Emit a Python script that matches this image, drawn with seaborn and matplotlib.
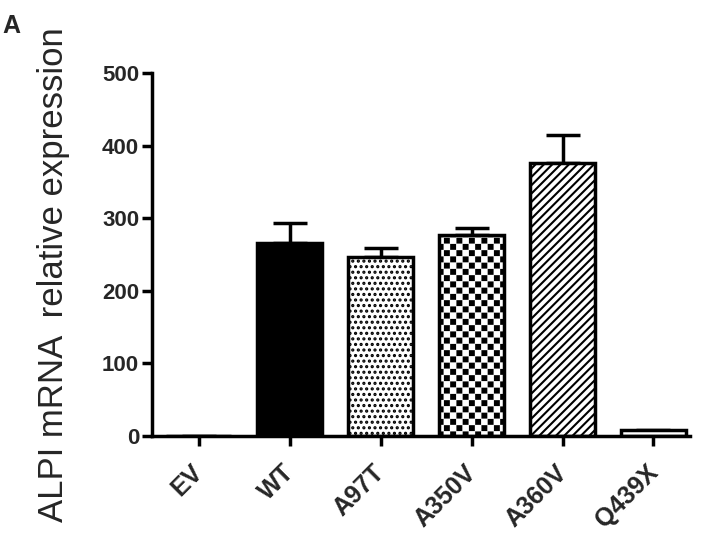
import warnings
import numpy as np
import pandas as pd
import matplotlib
matplotlib.use("Agg")
import matplotlib.pyplot as plt
import matplotlib.hatch as mhatch
import matplotlib.transforms as mtrans
from matplotlib.path import Path
import seaborn as sns

warnings.filterwarnings("ignore")

# data
groups = ["EV", "WT", "A97T", "A350V", "A360V", "Q439X"]
expression = [0, 266, 247, 277, 376, 8]
sem_up = [np.nan, 27, 12, 9, 39, np.nan]
hatches = ["", "", "...", "c", "////", "--"]
faces = ["white", "black", "white", "white", "white", "white"]


# checkerboard hatch ('c'), not built into matplotlib
class Checker(mhatch.HatchPatternBase):
    def __init__(self, hatch, density):
        self.n = 16 if "c" in hatch else 0
        self.cells = [(i, j) for i in range(self.n) for j in range(self.n) if (i + j) % 2 == 0]
        self.num_vertices = len(self.cells) * 5

    def set_vertices_and_codes(self, vertices, codes):
        s = 1.0 / self.n
        m = 0.012  # shrink a bit, the hatch stroke widens each square
        k = 0
        for i, j in self.cells:
            x0, y0 = i * s + m, j * s + m
            x1, y1 = (i + 1) * s - m, (j + 1) * s - m
            vertices[k:k + 5] = [(x0, y0), (x1, y0), (x1, y1), (x0, y1), (x0, y0)]
            codes[k:k + 5] = [Path.MOVETO, Path.LINETO, Path.LINETO, Path.LINETO, Path.CLOSEPOLY]
            k += 5


mhatch._hatch_types.append(Checker)

df = pd.DataFrame({"group": groups, "value": expression, "err": sem_up})

sns.set_theme(style="ticks")
plt.rcParams["font.family"] = ["Liberation Sans", "DejaVu Sans"]
plt.rcParams["hatch.linewidth"] = 1.5

fig = plt.figure(figsize=(7.09, 5.41), dpi=100)
ax = fig.add_axes([0.214, 0.194, 0.759, 0.671])

lw = 2.5
x = np.arange(len(groups))
ax.errorbar(x, df["value"], yerr=[np.zeros(len(groups)), df["err"]], fmt="none",
            ecolor="black", elinewidth=lw, capsize=12, capthick=lw, zorder=1)
sns.barplot(data=df, x="group", y="value", width=0.71, errorbar=None,
            color="white", edgecolor="black", linewidth=lw, ax=ax, zorder=2)
for bar, h, fc in zip(ax.patches, hatches, faces):
    bar.set_facecolor(fc)
    bar.set_hatch(h)
    bar.set_edgecolor("black")

ax.set_xlim(-0.516, 5.4)
ax.set_ylim(0, 500)
ax.set_yticks([0, 100, 200, 300, 400, 500])
ax.set_xlabel("")
ax.set_ylabel("ALPI mRNA  relative expression", fontsize=25)
ax.yaxis.set_label_coords(-0.152, 0.445)

sns.despine(ax=ax)
for sp in ["left", "bottom"]:
    ax.spines[sp].set_linewidth(lw)
    ax.spines[sp].set_color("black")
ax.tick_params(axis="both", width=lw, length=7, color="black")
ax.tick_params(axis="y", labelsize=16, pad=2)
ax.tick_params(axis="x", labelsize=18, pad=9)
for lab in ax.get_yticklabels():
    lab.set_fontweight("bold")
shift = mtrans.ScaledTranslation(-8 / 100, -2 / 100, fig.dpi_scale_trans)
for lab in ax.get_xticklabels():
    lab.set_fontweight("bold")
    lab.set_rotation(45)
    lab.set_ha("right")
    lab.set_rotation_mode("anchor")
    lab.set_transform(lab.get_transform() + shift)

fig.text(0.003, 0.939, "A", fontsize=18, fontweight="bold")

fig.savefig("out.png", dpi=100)
